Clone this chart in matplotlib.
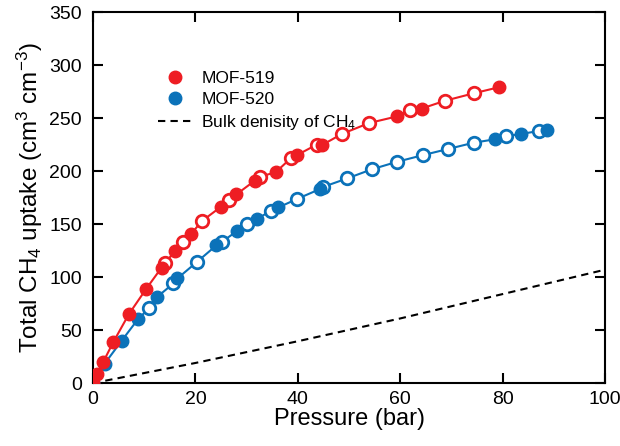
import numpy as np
import matplotlib
matplotlib.use('Agg')
import matplotlib.pyplot as plt

plt.rcParams['font.family'] = ['Liberation Sans', 'DejaVu Sans']
plt.rcParams['mathtext.default'] = 'regular'

# MOF-519 (red) adsorption (filled) / desorption (open)
p519_ads = [0, 0.7, 2, 4, 7, 10.4, 13.4, 16.1, 19.2, 24.9, 28, 31.6, 35.7, 39.8, 44.7, 59.3, 64.2, 79.2]
v519_ads = [0, 8.5, 20, 39, 65, 89, 109, 125, 141, 166, 178, 191, 199, 215, 224.5, 251.5, 259, 279]
p519_des = [74.3, 68.7, 61.9, 53.9, 48.6, 43.7, 38.6, 32.6, 26.6, 21.3, 17.6, 14.1]
v519_des = [273.3, 266.3, 257.5, 245.3, 235, 225, 212, 194.6, 173, 153, 133.5, 113.5]

# MOF-520 (blue)
p520_ads = [0, 2.3, 5.6, 8.8, 12.4, 16.5, 24.1, 28.2, 32.1, 36.2, 44.3, 78.5, 83.5, 88.7]
v520_ads = [0, 18.5, 40, 60.4, 80.8, 98.8, 130, 143.7, 155, 165.7, 183, 230, 235, 238.7]
p520_des = [87, 80.7, 74.3, 69.3, 64.4, 59.4, 54.4, 49.6, 44.9, 39.8, 34.7, 30, 25.1, 20.4, 15.7, 10.9]
v520_des = [237.7, 232.9, 226.7, 220.8, 215, 208.8, 201.6, 193, 185, 173.6, 162.5, 149.7, 133, 114.7, 94, 70.4]

# bulk CH4 density
p_bulk = [0, 20, 40, 60, 80, 100]
v_bulk = [0, 19, 39.5, 61, 84, 107]

red = '#ee1d23'
blue = '#0b72b9'

fig = plt.figure(figsize=(6.2, 4.46), dpi=100)
ax = fig.add_axes([0.15, 0.141, 0.826, 0.832])

ax.plot(p_bulk, v_bulk, color='black', ls=(0, (3.5, 2.5)), lw=1.5,
        label='Bulk denisity of CH$_4$', zorder=2)

for pa, va, pd, vd, c, name, z in [(p520_ads, v520_ads, p520_des, v520_des, blue, 'MOF-520', 3),
                                  (p519_ads, v519_ads, p519_des, v519_des, red, 'MOF-519', 5)]:
  allp = np.array(pa + pd)
  allv = np.array(va + vd)
  order = np.argsort(allp)
  ax.plot(allp[order], allv[order], color=c, lw=1.5, zorder=z)
  ax.plot(pd, vd, 'o', ms=9, mfc='white', mec=c, mew=2, zorder=z + 0.5)
  ax.plot(pa, va, 'o', ms=9, color=c, zorder=z + 0.6, label=name)

ax.set_xlim(0, 100)
ax.set_ylim(0, 350)
ax.set_xticks(np.arange(0, 101, 20))
ax.set_yticks(np.arange(0, 351, 50))
ax.tick_params(direction='in', length=7, width=1.5, labelsize=14,
               top=True, right=True)
ax.tick_params(axis='y', pad=8)
ax.tick_params(axis='x', pad=6)
for s in ax.spines.values():
  s.set_linewidth(1.5)

ax.set_xlabel('Pressure (bar)', fontsize=17, labelpad=0)
ax.set_ylabel('Total CH$_4$ uptake (cm$^3$ cm$^{-3}$)', fontsize=17.5, labelpad=3)

h, l = ax.get_legend_handles_labels()
idx = [l.index('MOF-519'), l.index('MOF-520'), l.index('Bulk denisity of CH$_4$')]
ax.legend([h[i] for i in idx], [l[i] for i in idx], loc='upper left',
          bbox_to_anchor=(0.11, 0.866), frameon=False, fontsize=12.5,
          handlelength=1.9, handletextpad=0.6, labelspacing=0.35, borderpad=0)

fig.savefig('out.png', dpi=100)
